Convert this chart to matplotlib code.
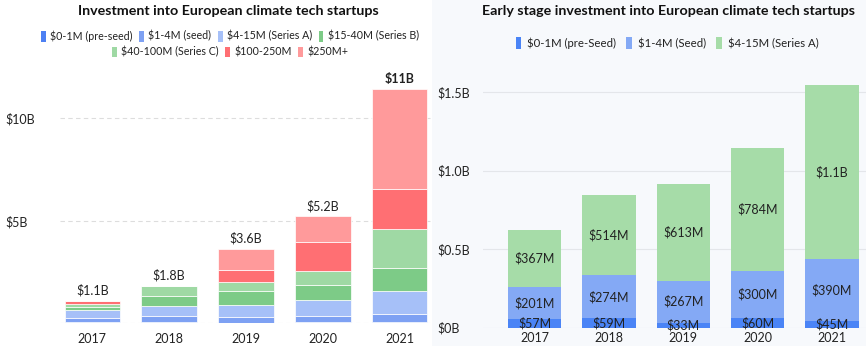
import matplotlib
matplotlib.use("Agg")
import matplotlib.pyplot as plt
from matplotlib.patches import Patch, Rectangle
import numpy as np

plt.rcParams['font.family'] = ['Lato', 'DejaVu Sans']

W, H = 866, 346

# ---------------- data ----------------
years = ["2017", "2018", "2019", "2020", "2021"]

# Left chart, $B
left_series = ["$0-1M (pre-seed)", "$1-4M (seed)", "$4-15M (Series A)", "$15-40M (Series B)",
               "$40-100M (Series C)", "$100-250M", "$250M+"]
pre_seed_b = [0.057, 0.059, 0.033, 0.060, 0.045]
seed_b = [0.201, 0.274, 0.267, 0.300, 0.390]
series_a_b = [0.367, 0.514, 0.613, 0.784, 1.13]
series_b_b = [0.16, 0.47, 0.65, 0.72, 1.11]
series_c_b = [0.14, 0.50, 0.47, 0.70, 1.92]
r100_250_b = [0.18, 0.0, 0.55, 1.38, 1.94]
r250_b = [0.0, 0.0, 1.04, 1.27, 4.88]
total_labels = ["$1.1B", "$1.8B", "$3.6B", "$5.2B", "$11B"]
left_yticks = [0, 5, 10]
left_yticklabels = ["", "$5B", "$10B"]

# Right chart, $M
right_series = ["$0-1M (pre-Seed)", "$1-4M (Seed)", "$4-15M (Series A)"]
pre_seed_m = [57, 59, 33, 60, 45]
seed_m = [201, 274, 267, 300, 390]
series_a_m = [367, 514, 613, 784, 1110]
right_yticks = [0, 500, 1000, 1500]
right_yticklabels = ["$0B", "$0.5B", "$1.0B", "$1.5B"]

left_colors = ["#4d80f3", "#7ea1f3", "#a6c0f8", "#7dcb87", "#9fd9a4", "#ff6f73", "#ff9a9b"]
right_colors = ["#4a84f6", "#84a9f5", "#a6dca8"]

def esc(s):
    return s.replace("$", r"\$")

def fx(x):
    return x / W

def fy(y):
    return 1 - y / H

fig = plt.figure(figsize=(W / 100, H / 100), dpi=100)
fig.patch.set_facecolor("white")
fig.patches.append(Rectangle((fx(432), 0), 1 - fx(432), 1, transform=fig.transFigure,
                             facecolor="#f7f9fc", edgecolor="none", zorder=-5))

text_color = "#222222"

# ---------------- left chart ----------------
axL = fig.add_axes([fx(60), fy(323.3), fx(432) - fx(60), fy(85) - fy(323.3)])
axL.set_facecolor("none")
x = np.arange(len(years))
stack = [pre_seed_b, seed_b, series_a_b, series_b_b, series_c_b, r100_250_b, r250_b]
bottom = np.zeros(len(years))
for vals, col in zip(stack, left_colors):
    vals = np.array(vals)
    axL.bar(x, vals, bottom=bottom, width=0.72, color=col, edgecolor="white", linewidth=0.5, zorder=3)
    bottom += vals
for i, (tot, lab) in enumerate(zip(bottom, total_labels)):
    axL.annotate(esc(lab), (x[i], tot), xytext=(0, 3), textcoords="offset points",
                 ha="center", va="bottom", fontsize=9, color=text_color,
                 fontweight="bold" if i == len(years) - 1 else "normal")
axL.set_xlim(-0.42, 4.42)
axL.set_ylim(0, 11.62)
axL.set_yticks(left_yticks)
axL.set_yticklabels([esc(t) for t in left_yticklabels])
axL.set_xticks(x)
axL.set_xticklabels(years)
axL.tick_params(axis="y", length=0, pad=39.6, labelsize=9, labelcolor=text_color)
axL.tick_params(axis="x", length=0, pad=7, labelsize=9, labelcolor=text_color)
for lab in axL.get_yticklabels():
    lab.set_ha("left")
axL.grid(axis="y", color="#dddddd", linestyle=(0, (4, 3)), linewidth=0.8, zorder=0)
axL.set_axisbelow(True)
for s in axL.spines.values():
    s.set_visible(False)

fig.text(fx(228), fy(11), "Investment into European climate tech startups", ha="center", va="center",
         fontsize=10.3, fontweight="bold", color="#111111")
h1 = [Patch(facecolor=c, edgecolor="none") for c in left_colors]
lab1 = [esc(s) for s in left_series]
fig.legend(h1[:4], lab1[:4], loc="center", bbox_to_anchor=(fx(230), fy(36)), ncol=4, frameon=False,
           handlelength=0.45, handleheight=1.2, handletextpad=0.4, columnspacing=0.6,
           fontsize=7.7, labelcolor=text_color, borderpad=0, borderaxespad=0)
fig.legend(h1[4:], lab1[4:], loc="center", bbox_to_anchor=(fx(230), fy(52)), ncol=3, frameon=False,
           handlelength=0.45, handleheight=1.2, handletextpad=0.4, columnspacing=0.6,
           fontsize=7.7, labelcolor=text_color, borderpad=0, borderaxespad=0)

# ---------------- right chart ----------------
axR = fig.add_axes([fx(482.7), fy(327.7), 1 - fx(482.7), fy(70) - fy(327.7)])
axR.set_facecolor("none")
rstack = [pre_seed_m, seed_m, series_a_m]
bottom = np.zeros(len(years))
for vals, col in zip(rstack, right_colors):
    vals = np.array(vals, dtype=float)
    axR.bar(x, vals, bottom=bottom, width=0.72, color=col, edgecolor="none", zorder=3)
    for i, v in enumerate(vals):
        lab = f"${v/1000:.1f}B" if v >= 1000 else f"${int(v)}M"
        axR.text(x[i], bottom[i] + v / 2, esc(lab), ha="center", va="center", fontsize=9,
                 color=text_color, zorder=4)
    bottom += vals
axR.set_xlim(-0.70, 4.46)
axR.set_ylim(0, 1641)
axR.set_yticks(right_yticks)
axR.set_yticklabels([esc(t) for t in right_yticklabels])
axR.set_xticks(x)
axR.set_xticklabels(years)
axR.tick_params(axis="y", length=0, pad=32.9, labelsize=9, labelcolor=text_color)
axR.tick_params(axis="x", length=0, pad=3, labelsize=9, labelcolor=text_color)
for lab in axR.get_yticklabels():
    lab.set_ha("left")
axR.grid(axis="y", color="#e4e6ea", linestyle="-", linewidth=0.8, zorder=0)
axR.set_axisbelow(True)
for s in axR.spines.values():
    s.set_visible(False)

fig.text(fx(668), fy(11), "Early stage investment into European climate tech startups", ha="center",
         va="center", fontsize=10.3, fontweight="bold", color="#111111")
h2 = [Patch(facecolor=c, edgecolor="none") for c in right_colors]
fig.legend(h2, [esc(s) for s in right_series], loc="center", bbox_to_anchor=(fx(667), fy(43)), ncol=3,
           frameon=False, handlelength=0.5, handleheight=1.3, handletextpad=0.5, columnspacing=0.9,
           fontsize=8.2, labelcolor=text_color, borderpad=0, borderaxespad=0)

fig.savefig("out.png", dpi=100)
